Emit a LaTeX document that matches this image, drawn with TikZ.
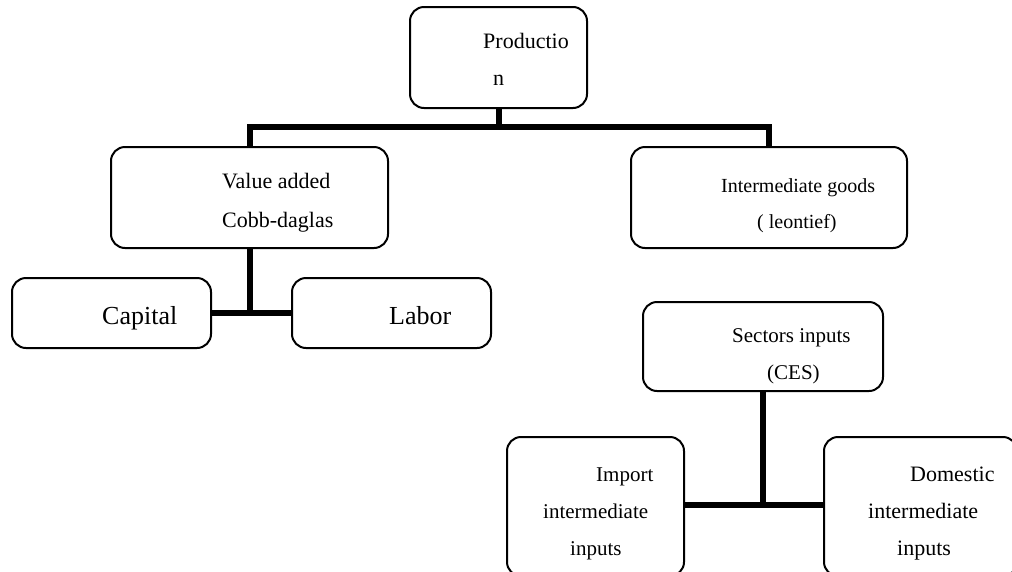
\documentclass[tikz,border=0pt]{standalone}
\usepackage{fontspec}
\setmainfont{Liberation Serif}
\begin{document}
\begin{tikzpicture}[x=1pt,y=-1pt,
  box/.style={draw=black,line width=2pt,rounded corners=14pt,inner sep=0pt},
  conn/.style={draw=black,line width=6pt,line join=miter},
  lbl/.style={anchor=base west,inner sep=0pt,font=\fontsize{22}{26}\selectfont},
  lblsmall/.style={lbl,font=\fontsize{20}{24}\selectfont},
  lblmid/.style={lbl,font=\fontsize{21}{25}\selectfont},
  lblbig/.style={lbl,font=\fontsize{26}{30}\selectfont}]
\useasboundingbox (0,0) rectangle (1012,571);
\clip (0,0) rectangle (1012,571);
% boxes
\node[box,minimum width=177pt,minimum height=101pt] (prod) at (498.5,57.5) {};
\node[box,minimum width=277pt,minimum height=101pt] (val) at (249.5,197.5) {};
\node[box,minimum width=276pt,minimum height=101pt] (int) at (769,197.5) {};
\node[box,minimum width=199pt,minimum height=70pt] (cap) at (111.5,313) {};
\node[box,minimum width=199pt,minimum height=70pt] (lab) at (391.5,313) {};
\node[box,minimum width=240pt,minimum height=89pt] (sec) at (763,346.5) {};
\node[box,minimum width=177pt,minimum height=139pt] (imp) at (595.5,506.5) {};
\node[box,minimum width=193pt,minimum height=139pt] (dom) at (920.5,506.5) {};
% texts
\node[lbl] (t1) at (483,48) {Productio};
\node[lbl] (t2) at (493,85) {n};
\node[lbl] (t3) at (222,188) {Value added};
\node[lbl] (t4) at (222,227) {Cobb-daglas};
\node[lblsmall] (t5) at (721,192) {Intermediate goods};
\node[lblsmall] (t6) at (757,228) {( leontief)};
\node[lblbig] (t7) at (102,324) {Capital};
\node[lblbig] (t8) at (389,324) {Labor};
\node[lblmid] (t9) at (732,342) {Sectors inputs};
\node[lblmid] (t10) at (767,379) {(CES)};
\node[lblmid] (t11) at (596,481) {Import};
\node[lblmid] (t12) at (543,518) {intermediate};
\node[lblmid] (t13) at (570,555) {inputs};
\node[lbl] (t14) at (910,481) {Domestic};
\node[lbl] (t15) at (868,518) {intermediate};
\node[lbl] (t16) at (897,555) {inputs};
% connectors
\coordinate (bar) at (0,127);
\coordinate (vbar) at (0,313);
\coordinate (sbar) at (0,505);
\draw[conn] (prod.south) -- (prod.south |- bar);
\draw[conn] (val.north) -- (val.north |- bar) -- (int.north |- bar) -- (int.north);
\draw[conn] (val.south) -- (val.south |- vbar);
\draw[conn] (cap.east |- vbar) -- (lab.west |- vbar);
\draw[conn] (sec.south) -- (sec.south |- sbar);
\draw[conn] (imp.east |- sbar) -- (dom.west |- sbar);
\end{tikzpicture}
\end{document}
